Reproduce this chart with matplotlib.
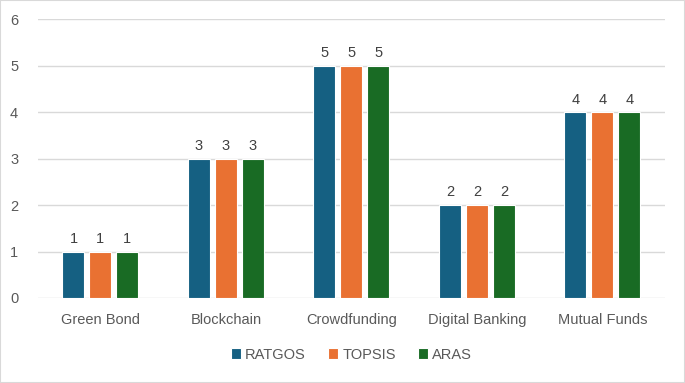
import matplotlib
matplotlib.use("Agg")
import matplotlib.pyplot as plt
import numpy as np

categories = ["Green Bond", "Blockchain", "Crowdfunding", "Digital Banking", "Mutual Funds"]
series_names = ["RATGOS", "TOPSIS", "ARAS"]
ratgos = [1, 3, 5, 2, 4]
topsis = [1, 3, 5, 2, 4]
aras = [1, 3, 5, 2, 4]
colors = ["#156082", "#E97132", "#196B24"]

plt.rcParams['font.family'] = ['Liberation Sans', 'DejaVu Sans']
fig = plt.figure(figsize=(6.85, 3.83), dpi=100)
ax = fig.add_axes([0.055, 0.222, 0.916, 0.728])

x = np.arange(len(categories))
step = 0.215
w = 0.175
for i, (vals, name, c) in enumerate(zip([ratgos, topsis, aras], series_names, colors)):
    bars = ax.bar(x + (i - 1) * step, vals, w, color=c, edgecolor="white", linewidth=0.8, label=name, zorder=3)
    for b, v in zip(bars, vals):
        ax.text(b.get_x() + b.get_width() / 2, v + 0.12, str(v), ha="center", va="bottom",
                fontsize=10.5, color="#404040")

ax.set_xlim(-0.5, len(categories) - 0.5)
ax.set_ylim(0, 6)
ax.set_yticks(range(7))
ax.set_xticks(x)
ax.set_xticklabels(categories)
ax.grid(axis="y", color="#D9D9D9", linewidth=1, zorder=0)
for s in ax.spines.values():
    s.set_visible(False)
ax.tick_params(length=0, colors="#595959", labelsize=10.5)
ax.tick_params(axis="y", pad=14)
ax.tick_params(axis="x", pad=11)

leg = ax.legend(loc="lower center", bbox_to_anchor=(0.5, -0.275), ncol=3, frameon=False,
                fontsize=10.5, handlelength=0.7, handleheight=0.7, handletextpad=0.3, columnspacing=1.5)
for t in leg.get_texts():
    t.set_color("#595959")

fig.patches.append(plt.Rectangle((0, 0), 1, 1, transform=fig.transFigure, fill=False,
                                 edgecolor="#D9D9D9", linewidth=1.5))
fig.savefig("out.png", dpi=100)
